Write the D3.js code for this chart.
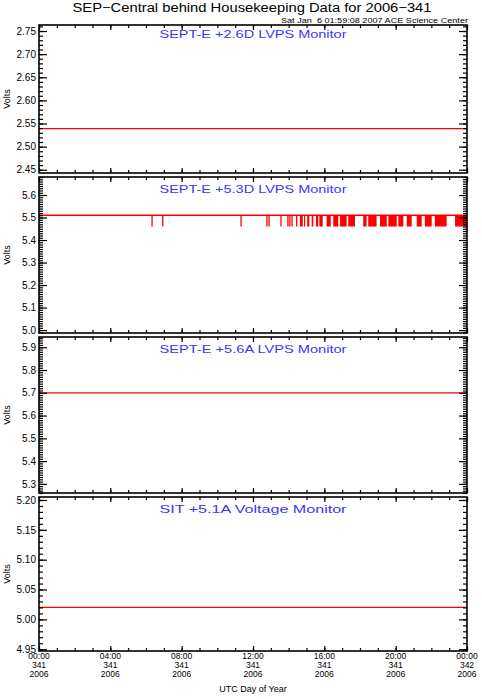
<!DOCTYPE html>
<html>
<head>
<meta charset="utf-8">
<script src="https://cdn.jsdelivr.net/npm/d3@7"></script>
<style>
  body { margin: 0; background: #fff; }
  text { font-family: "Liberation Sans", Helvetica, Arial, sans-serif; }
</style>
</head>
<body>
<div class="chart"></div>
<script>
// chart data
var panelTitles = ["SEPT-E +2.6D LVPS Monitor", "SEPT-E +5.3D LVPS Monitor",
                   "SEPT-E +5.6A LVPS Monitor", "SIT +5.1A Voltage Monitor"];
var panelRanges = [[2.443, 2.763], [4.987, 5.68], [5.26, 5.945], [4.947, 5.205]];
var panelTicks = [
  [2.45, 2.50, 2.55, 2.60, 2.65, 2.70, 2.75],
  [5.0, 5.1, 5.2, 5.3, 5.4, 5.5, 5.6],
  [5.3, 5.4, 5.5, 5.6, 5.7, 5.8, 5.9],
  [4.95, 5.00, 5.05, 5.10, 5.15, 5.20]
];
var tickDecimals = [2, 1, 1, 2];
var baseVolts = [2.539, 5.51, 5.70, 5.02];

// +5.3D monitor drops to ~5.46 V: single samples (hour of day) and runs [start, end]
var dipVolts = 5.46;
var dipHours = [6.34, 6.94, 11.33, 12.78, 12.90, 13.57, 13.96, 14.07, 14.19, 14.45];
var dipRuns = [
  [14.63, 14.79], [14.86, 14.92], [15.04, 15.16], [15.29, 15.38], [15.53, 15.66],
  [15.72, 15.91], [16.13, 16.36], [16.50, 16.78], [16.88, 17.25], [17.34, 17.72],
  [18.18, 18.37], [18.46, 18.93], [19.12, 19.50], [19.59, 20.06], [20.15, 20.43],
  [20.62, 20.90], [21.18, 21.46], [21.64, 22.02], [22.20, 22.86], [23.33, 24.0]
];

var xTickLabels = [
  ["00:00", "341", "2006"], ["04:00", "341", "2006"], ["08:00", "341", "2006"],
  ["12:00", "341", "2006"], ["16:00", "341", "2006"], ["20:00", "341", "2006"],
  ["00:00", "342", "2006"]
];

var svgWidth = 482, svgHeight = 699;
var left = 39, right = 467;
var panelBox = [[25, 173], [177, 333], [337, 493], [497, 651]];
var blue = "rgb(55,55,255)";

var svg = d3.select(".chart").append("svg")
  .attr("width", svgWidth)
  .attr("height", svgHeight);

var x = d3.scaleLinear().domain([0, 24]).range([left, right]);
var majorHours = [0, 4, 8, 12, 16, 20, 24];
var minorHours = d3.range(0, 25);

// titles
svg.append("text")
  .attr("x", 252).attr("y", 11.5)
  .attr("text-anchor", "middle")
  .attr("font-size", 12.5)
  .attr("textLength", 359).attr("lengthAdjust", "spacingAndGlyphs")
  .text("SEP\u2212Central behind Housekeeping Data for 2006\u2212341");

svg.append("text")
  .attr("x", 468).attr("y", 22.5)
  .attr("text-anchor", "end")
  .attr("font-size", 7)
  .attr("textLength", 187).attr("lengthAdjust", "spacingAndGlyphs")
  .text("Sat Jan  6 01:59:08 2007 ACE Science Center")
  .style("white-space", "pre");

panelBox.forEach(function(box, i) {
  var top = box[0], bottom = box[1];
  var y = d3.scaleLinear().domain(panelRanges[i]).range([bottom, top]);
  var g = svg.append("g");
  var minor = d3.range(Math.ceil(panelRanges[i][0] * 100), Math.floor(panelRanges[i][1] * 100) + 1)
    .map(function(v) { return v / 100; });

  // red data
  if (i === 1) {
    g.selectAll(".run").data(dipRuns).enter().append("rect")
      .attr("x", function(d) { return x(d[0]); })
      .attr("width", function(d) { return x(d[1]) - x(d[0]); })
      .attr("y", y(baseVolts[i]))
      .attr("height", y(dipVolts) - y(baseVolts[i]))
      .attr("fill", "#ff0000");
    g.selectAll(".dip").data(dipHours).enter().append("line")
      .attr("x1", function(d) { return x(d); })
      .attr("x2", function(d) { return x(d); })
      .attr("y1", y(baseVolts[i]))
      .attr("y2", y(dipVolts))
      .attr("stroke", "#ff0000").attr("stroke-width", 1.3);
  }
  g.append("line")
    .attr("x1", x(0)).attr("x2", x(24))
    .attr("y1", y(baseVolts[i])).attr("y2", y(baseVolts[i]))
    .attr("stroke", "#ff0000").attr("stroke-width", 1.3);

  // y axes, ticks pointing inward
  g.append("g").attr("transform", "translate(" + left + ",0)")
    .call(d3.axisLeft(y).tickValues(minor).tickSize(-4).tickFormat(""))
    .call(function(a) { a.select(".domain").remove(); });
  g.append("g").attr("transform", "translate(" + left + ",0)")
    .call(d3.axisLeft(y).tickValues(panelTicks[i]).tickSize(-8).tickPadding(3)
      .tickFormat(d3.format("." + tickDecimals[i] + "f")))
    .call(function(a) {
      a.select(".domain").remove();
      a.selectAll("text").attr("font-size", 10).attr("font-family", null).attr("fill", "#000");
    });
  g.append("g").attr("transform", "translate(" + right + ",0)")
    .call(d3.axisRight(y).tickValues(minor).tickSize(-4).tickFormat(""))
    .call(function(a) { a.select(".domain").remove(); });
  g.append("g").attr("transform", "translate(" + right + ",0)")
    .call(d3.axisRight(y).tickValues(panelTicks[i]).tickSize(-8).tickFormat(""))
    .call(function(a) { a.select(".domain").remove(); });

  // x axes top and bottom
  [[top, d3.axisTop], [bottom, d3.axisBottom]].forEach(function(p) {
    g.append("g").attr("transform", "translate(0," + p[0] + ")")
      .call(p[1](x).tickValues(minorHours).tickSize(-3).tickFormat(""))
      .call(function(a) { a.select(".domain").remove(); });
    g.append("g").attr("transform", "translate(0," + p[0] + ")")
      .call(p[1](x).tickValues(majorHours).tickSize(-5).tickFormat(""))
      .call(function(a) { a.select(".domain").remove(); });
  });

  g.selectAll(".tick line").attr("stroke", "#000").attr("stroke-width", 1.2);

  g.append("rect")
    .attr("x", left).attr("y", top)
    .attr("width", right - left).attr("height", bottom - top)
    .attr("fill", "none").attr("stroke", "#000").attr("stroke-width", 1.6);

  g.append("text")
    .attr("x", 253).attr("y", top + (i === 0 ? 13.3 : 15.5))
    .attr("text-anchor", "middle")
    .attr("font-size", 11)
    .attr("fill", blue)
    .attr("textLength", 187).attr("lengthAdjust", "spacingAndGlyphs")
    .text(panelTitles[i]);

  g.append("text")
    .attr("transform", "translate(10," + ((top + bottom) / 2) + ") rotate(-90)")
    .attr("text-anchor", "middle")
    .attr("font-size", 9)
    .text("Volts");
});

// bottom labels, three lines each
var lastBottom = panelBox[3][1];
var labelGroup = svg.append("g");
labelGroup.selectAll("text").data(majorHours).enter().append("text")
  .attr("x", function(d) { return x(d); })
  .attr("text-anchor", "middle")
  .attr("font-size", 8.5)
  .each(function(d, k) {
    var t = d3.select(this);
    xTickLabels[k].forEach(function(s, j) {
      t.append("tspan").attr("x", x(d)).attr("y", lastBottom + 8 + j * 9).text(s);
    });
  });

svg.append("text")
  .attr("x", 253).attr("y", 692)
  .attr("text-anchor", "middle")
  .attr("font-size", 9)
  .text("UTC Day of Year");
</script>
</body>
</html>
